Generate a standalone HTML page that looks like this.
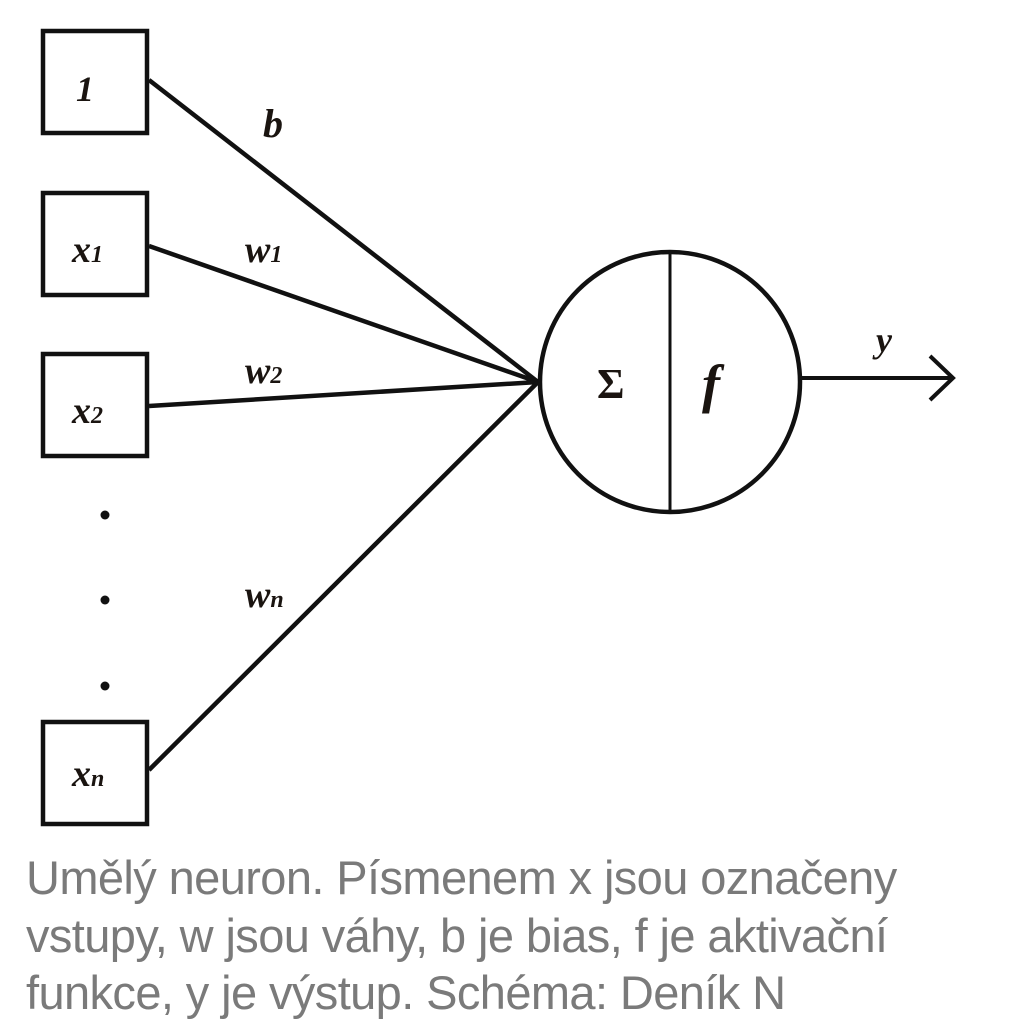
<!DOCTYPE html>
<html><head><meta charset="utf-8"><style>
html,body{margin:0;padding:0;background:#fff;}
body{width:1024px;height:1021px;position:relative;overflow:hidden;}
.cap{position:absolute;left:26px;font-family:"Liberation Sans","DejaVu Sans",sans-serif;font-size:47px;color:#7a7a7a;letter-spacing:-0.6px;white-space:nowrap;}
</style></head><body>
<svg width="1024" height="850" style="position:absolute;left:0;top:0" xmlns="http://www.w3.org/2000/svg">
<g fill="none" stroke="#111" stroke-width="4.5">
<rect x="43" y="31" width="104" height="102"/>
<rect x="43" y="193" width="104" height="102"/>
<rect x="43" y="354" width="104" height="102"/>
<rect x="43" y="722" width="104" height="102"/>
<line x1="149" y1="80" x2="538" y2="382"/>
<line x1="149" y1="246" x2="538" y2="382"/>
<line x1="149" y1="406" x2="538" y2="382"/>
<line x1="149" y1="770" x2="538" y2="382"/>
<circle cx="670" cy="382" r="130"/>
<line x1="670" y1="252" x2="670" y2="512" stroke-width="3"/>
<line x1="800" y1="378" x2="952" y2="378" stroke-width="4"/>
<polyline points="930,356 953,378 930,400" stroke-width="4"/>
</g>
<g fill="#111">
<circle cx="105" cy="515" r="4.5"/><circle cx="105" cy="600" r="4.5"/><circle cx="105" cy="686" r="4.5"/>
</g>
<g font-family="Liberation Serif,DejaVu Serif,serif" font-style="italic" font-weight="bold" fill="#1a1410">
<text x="76" y="101" font-size="36">1</text>
<text x="72" y="262" font-size="38">x<tspan font-size="24">1</tspan></text>
<text x="72" y="423" font-size="38">x<tspan font-size="24">2</tspan></text>
<text x="72" y="786" font-size="38">x<tspan font-size="24">n</tspan></text>
<text x="263" y="137" font-size="40">b</text>
<text x="245" y="262" font-size="38">w<tspan font-size="24">1</tspan></text>
<text x="245" y="383" font-size="38">w<tspan font-size="24">2</tspan></text>
<text x="245" y="607" font-size="38">w<tspan font-size="24">n</tspan></text>
<text x="876" y="352" font-size="36">y</text>
<text x="702" y="402" font-size="54">f</text>
<text x="597" y="398" font-size="42" font-style="normal">Σ</text>
</g>
</svg>
<div class="cap" style="top:850px">Umělý neuron. Písmenem x jsou označeny</div>
<div class="cap" style="top:908px">vstupy, w jsou váhy, b je bias, f je aktivační</div>
<div class="cap" style="top:965px">funkce, y je výstup. Schéma: Deník N</div>
</body></html>
